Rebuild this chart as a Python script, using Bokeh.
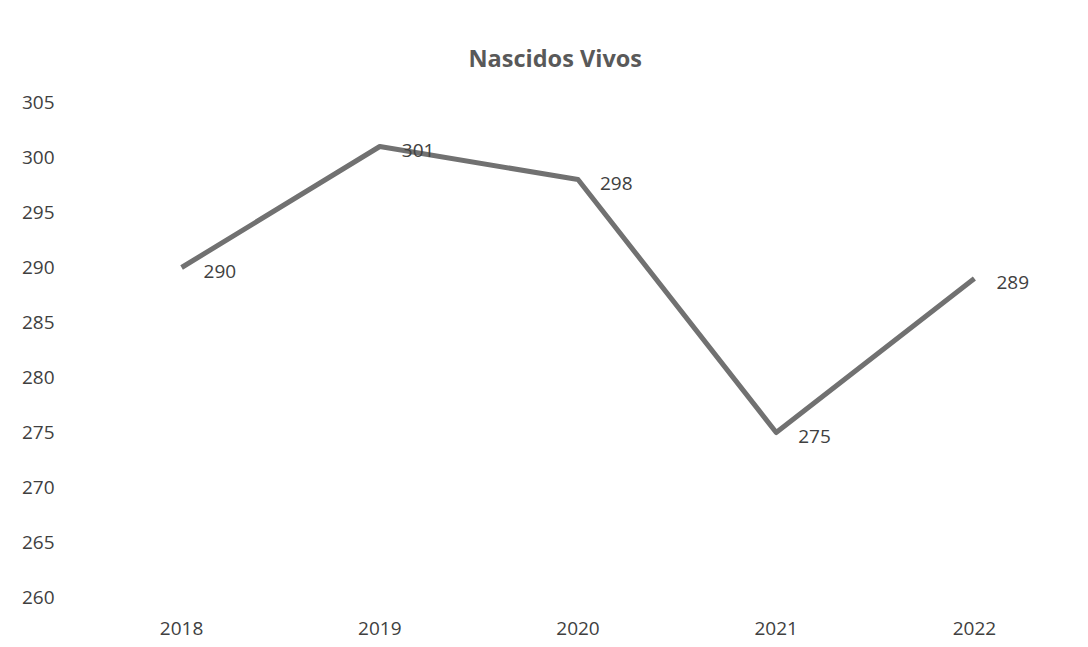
from bokeh.plotting import figure
from bokeh.models import Range1d, FixedTicker, ColumnDataSource
from bokeh.core.properties import value
from bokeh.embed import file_html
from bokeh.resources import INLINE

years = [2018, 2019, 2020, 2021, 2022]
births = [290, 301, 298, 275, 289]
y_ticks = [260, 265, 270, 275, 280, 285, 290, 295, 300, 305]
title_text = "Nascidos Vivos"

FONT = "Open Sans"

src = ColumnDataSource(dict(x=years, y=births, lbl=[str(v) for v in births]))

p = figure(width=1080, height=641, output_backend="svg", toolbar_location=None,
           x_range=Range1d(2017.5, 2022.5), y_range=Range1d(260, 305),
           frame_width=991, frame_height=495,
           min_border_left=82, min_border_right=7, min_border_top=102, min_border_bottom=44)
p.outline_line_color = None
p.background_fill_color = "white"
p.border_fill_color = "white"
p.xgrid.visible = False
p.ygrid.visible = False

for ax in (p.xaxis[0], p.yaxis[0]):
    ax.axis_line_color = None
    ax.major_tick_line_color = None
    ax.minor_tick_line_color = None
    ax.major_label_text_font = FONT
    ax.major_label_text_font_size = "19px"
    ax.major_label_text_color = "#404040"

p.xaxis.ticker = FixedTicker(ticks=years)
p.xaxis.major_label_standoff = 18
p.yaxis.ticker = FixedTicker(ticks=y_ticks)
p.yaxis.major_label_standoff = 22

p.line("x", "y", source=src, line_color="#717171", line_width=5, line_join="round")
p.text("x", "y", text="lbl", source=src, x_offset=22, y_offset=4,
       text_font=value(FONT), text_font_size="19px", text_color="#404040",
       text_align="left", text_baseline="middle")

p.title.text = title_text
p.title.align = "left"
p.title.offset = 386
p.title.standoff = 57
p.title.text_font = FONT
p.title.text_font_size = "23.5px"
p.title.text_font_style = "bold"
p.title.text_color = "#595959"

open("out.html", "w").write(file_html(p, INLINE))
